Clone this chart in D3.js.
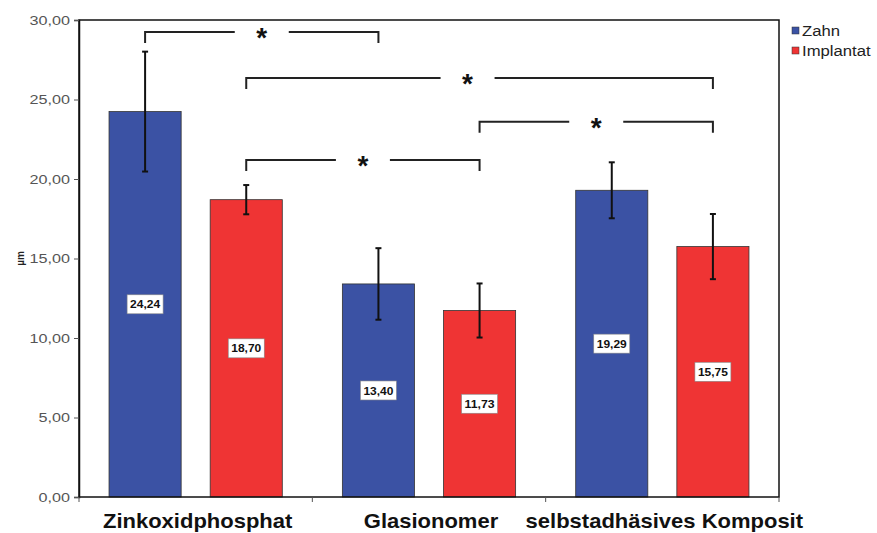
<!DOCTYPE html>
<html>
<head>
<meta charset="utf-8">
<script src="https://cdn.jsdelivr.net/npm/d3@7"></script>
<style>
  html, body { margin: 0; padding: 0; background: #fff; }
  svg { display: block; }
</style>
</head>
<body>
<svg id="chart" width="877" height="533"></svg>
<script>
const categories = ["Zinkoxidphosphat", "Glasionomer", "selbstadhäsives Komposit"];
const seriesNames = ["Zahn", "Implantat"];
const zahnValues = [24.24, 13.40, 19.29];
const implantatValues = [18.70, 11.73, 15.75];
const zahnSD = [3.77, 2.25, 1.76];
const implantatSD = [0.92, 1.70, 2.05];
const yTicks = [0, 5, 10, 15, 20, 25, 30];
const seriesColors = ["#3b52a4", "#ef3434"];
// significance brackets: [category index, series index] pairs and level (µm)
const brackets = [
  { from: [0, 0], to: [1, 0], level: 29.25, label: "*", shift: 0 },
  { from: [0, 1], to: [2, 1], level: 26.35, label: "*", shift: -12 },
  { from: [1, 1], to: [2, 1], level: 23.6, label: "*", shift: 0 },
  { from: [0, 1], to: [1, 1], level: 21.2, label: "*", shift: 0 }
];

const values = [zahnValues, implantatValues];
const sds = [zahnSD, implantatSD];
const fmt = v => v.toFixed(2).replace(".", ",");
const FONT = "Liberation Sans, Arial, sans-serif";

const svg = d3.select("#chart");
const margin = { left: 79, top: 20, right: 98, bottom: 36 };
const W = 877, H = 533;
const plotW = W - margin.left - margin.right;
const plotH = H - margin.top - margin.bottom;

const g = svg.append("g").attr("transform", `translate(${margin.left},${margin.top})`);

const x0 = d3.scaleBand().domain(categories).range([0, plotW]).padding(0);
const x1 = d3.scaleBand().domain(seriesNames).range([0, x0.bandwidth()])
  .paddingInner(0.287).paddingOuter(0.297);
const y = d3.scaleLinear().domain([0, 30]).range([plotH, 0]);

// bars
const barData = [];
categories.forEach((c, ci) => seriesNames.forEach((s, si) => {
  barData.push({ c, ci, s, si, v: values[si][ci], sd: sds[si][ci] });
}));

g.selectAll("rect.bar").data(barData).enter().append("rect")
  .attr("class", "bar")
  .attr("x", d => x0(d.c) + x1(d.s))
  .attr("y", d => y(d.v))
  .attr("width", x1.bandwidth())
  .attr("height", d => y(0) - y(d.v))
  .attr("fill", d => seriesColors[d.si])
  .attr("stroke", "#333")
  .attr("stroke-width", 0.8);

// error bars
const cx = d => x0(d.c) + x1(d.s) + x1.bandwidth() / 2;
const eb = g.selectAll("g.err").data(barData).enter().append("g").attr("class", "err")
  .attr("stroke", "#111").attr("stroke-width", 2);
eb.append("line").attr("x1", cx).attr("x2", cx)
  .attr("y1", d => y(d.v - d.sd)).attr("y2", d => y(d.v + d.sd));
eb.append("line").attr("x1", d => cx(d) - 3).attr("x2", d => cx(d) + 3)
  .attr("y1", d => y(d.v + d.sd)).attr("y2", d => y(d.v + d.sd));
eb.append("line").attr("x1", d => cx(d) - 3).attr("x2", d => cx(d) + 3)
  .attr("y1", d => y(d.v - d.sd)).attr("y2", d => y(d.v - d.sd));

// value labels
const lab = g.selectAll("g.lab").data(barData).enter().append("g").attr("class", "lab")
  .attr("transform", d => `translate(${cx(d)},${(y(d.v) + y(0)) / 2})`);
lab.append("rect").attr("x", -18).attr("y", -9.5).attr("width", 36).attr("height", 19)
  .attr("fill", "#fff").attr("stroke", "#888").attr("stroke-width", 0.6);
lab.append("text").attr("text-anchor", "middle").attr("dy", "0.36em")
  .attr("font-family", FONT)
  .attr("font-weight", "bold").attr("font-size", 11.5).attr("fill", "#111")
  .attr("textLength", 30).attr("lengthAdjust", "spacingAndGlyphs")
  .text(d => fmt(d.v));

// plot frame
g.append("rect").attr("x", 0).attr("y", 0).attr("width", plotW).attr("height", plotH)
  .attr("fill", "none").attr("stroke", "#111").attr("stroke-width", 1.5);

// y axis
const yAxis = g.append("g").call(d3.axisLeft(y).tickValues(yTicks).tickFormat(fmt).tickSize(5).tickPadding(4));
yAxis.select(".domain").attr("stroke", "#111").attr("stroke-width", 1.5);
yAxis.selectAll(".tick line").attr("stroke", "#555");
yAxis.selectAll("text").attr("font-family", FONT)
  .attr("font-size", 13.5).attr("fill", "#555")
  .attr("x", 0).attr("transform", "translate(-9,0) scale(1.2,1)");

// x axis ticks between categories
const xBoundaries = categories.map(c => x0(c)).concat([plotW]);
g.selectAll("line.xt").data(xBoundaries).enter().append("line")
  .attr("x1", d => d).attr("x2", d => d).attr("y1", plotH).attr("y2", plotH + 5)
  .attr("stroke", "#555").attr("stroke-width", 1);

g.selectAll("text.xl").data(categories).enter().append("text")
  .attr("transform", d => `translate(${x0(d) + x0.bandwidth() / 2 + 2},${plotH + 31}) scale(1.1,1)`)
  .attr("text-anchor", "middle")
  .attr("font-family", FONT)
  .attr("font-weight", "bold").attr("font-size", 20).attr("fill", "#111")
  .text(d => d);

// y title
svg.append("text").attr("transform", `translate(24,${margin.top + plotH / 2}) rotate(-90)`)
  .attr("text-anchor", "middle")
  .attr("font-family", FONT)
  .attr("font-weight", "bold").attr("font-size", 10).attr("fill", "#222")
  .text("µm");

// brackets
const bx = p => x0(categories[p[0]]) + x1(seriesNames[p[1]]) + x1.bandwidth() / 2;
brackets.forEach(b => {
  const xa = bx(b.from), xb = bx(b.to), yy = y(b.level), drop = 11;
  const xm = (xa + xb) / 2 + b.shift;
  const gap = 27;
  const bg = g.append("g").attr("stroke", "#222").attr("stroke-width", 2).attr("fill", "none");
  bg.append("path").attr("d", `M${xa},${yy + drop}V${yy}H${xm - gap}`);
  bg.append("path").attr("d", `M${xm + gap},${yy}H${xb}V${yy + drop}`);
  g.append("text").attr("x", xm).attr("y", yy + 15).attr("text-anchor", "middle")
    .attr("font-family", FONT)
    .attr("font-weight", "bold").attr("font-size", 28).attr("fill", "#111")
    .text(b.label);
});

// legend
const leg = svg.append("g").attr("transform", `translate(${margin.left + plotW + 13},27)`);
seriesNames.forEach((s, i) => {
  const r = leg.append("g").attr("transform", `translate(0,${i * 20})`);
  r.append("rect").attr("x", 0).attr("y", 0).attr("width", 7).attr("height", 7)
    .attr("fill", seriesColors[i]).attr("stroke", "#333").attr("stroke-width", 0.5);
  r.append("text").attr("transform", "translate(10,9) scale(1.15,1)")
    .attr("font-family", FONT)
    .attr("font-size", 14.5).attr("fill", "#222").text(s);
});
</script>
</body>
</html>
